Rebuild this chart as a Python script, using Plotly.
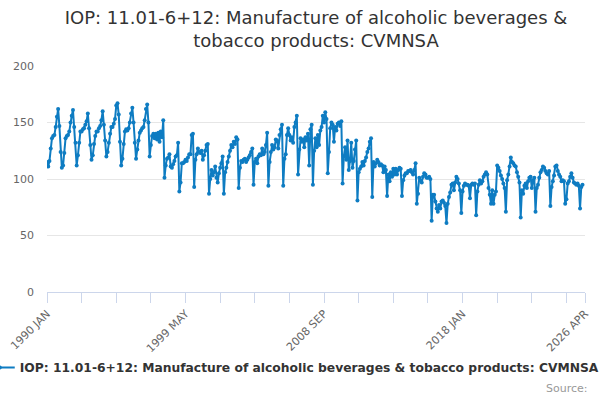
"""IOP 11.01-6+12 (alcoholic beverages & tobacco), monthly CVMNSA index."""
import pandas as pd
import plotly.graph_objects as go

SERIES_NAME = "IOP: 11.01-6+12: Manufacture of alcoholic beverages & tobacco products: CVMNSA"

# monthly values (Jan..Dec per row)
values_1990s = [
    115, 111, 116, 127, 136, 138, 139, 146, 155, 162, 147, 124,  # 1990
    110, 112, 123, 136, 138, 139, 142, 150, 156, 161, 146, 132,  # 1991
    112, 121, 132, 142, 142, 144, 145, 148, 151, 158, 145, 130,  # 1992
    117, 121, 131, 138, 142, 142, 145, 147, 152, 160, 148, 134,  # 1993
    120, 124, 132, 140, 146, 146, 149, 153, 165, 167, 157, 133,  # 1994
    112, 118, 131, 142, 144, 143, 145, 150, 158, 163, 150, 132,  # 1995
    118, 126, 134, 141, 143, 145, 146, 152, 162, 166, 150, 120,  # 1996
    130, 138, 140, 136, 140, 135, 141, 133, 142, 137, 152, 101,  # 1997
    112, 118, 119, 122, 111, 110, 113, 116, 120, 121, 132, 89,   # 1998
    97, 114, 114, 115, 117, 116, 119, 122, 122, 139, 140, 93,    # 1999
]
values_2000s = [
    117, 122, 127, 124, 123, 125, 117, 121, 125, 130, 131, 87,   # 2000
    100, 108, 103, 106, 111, 101, 97, 105, 110, 114, 120, 87,    # 2001
    106, 110, 115, 120, 125, 130, 128, 133, 131, 137, 135, 92,   # 2002
    110, 116, 115, 117, 118, 115, 117, 119, 121, 124, 127, 95,   # 2003
    115, 118, 114, 120, 122, 121, 127, 122, 124, 130, 141, 94,   # 2004
    115, 124, 130, 126, 128, 135, 134, 127, 139, 144, 148, 94,   # 2005
    118, 122, 139, 145, 139, 134, 137, 132, 146, 150, 156, 104,  # 2006
    126, 136, 133, 135, 128, 137, 134, 140, 112, 144, 148, 95,   # 2007
    125, 136, 128, 139, 130, 143, 146, 156, 150, 159, 153, 105,  # 2008
    124, 145, 150, 148, 133, 146, 143, 149, 150, 147, 151, 96,   # 2009
]
values_2010s = [
    120, 128, 117, 134, 108, 116, 132, 110, 116, 126, 134, 81,   # 2010
    106, 109, 111, 115, 112, 116, 119, 124, 127, 133, 136, 84,   # 2011
    115, 111, 114, 117, 115, 112, 113, 112, 106, 111, 108, 85,   # 2012
    104, 98, 106, 102, 109, 104, 109, 104, 108, 110, 109, 85,    # 2013
    99, 103, 105, 105, 107, 107, 108, 106, 104, 108, 114, 78,    # 2014
    87, 101, 99, 97, 102, 105, 104, 101, 101, 102, 100, 63,      # 2015
    86, 86, 80, 74, 71, 77, 74, 80, 81, 79, 76, 61,              # 2016
    78, 84, 88, 95, 96, 90, 97, 102, 100, 96, 90, 70,            # 2017
    89, 94, 96, 95, 95, 94, 83, 95, 96, 95, 96, 68,              # 2018
    89, 95, 99, 96, 98, 102, 104, 106, 104, 92, 86, 78,          # 2019
]
values_2020s = [
    90, 78, 86, 89, 112, 110, 107, 103, 100, 96, 92, 71,         # 2020
    99, 104, 111, 119, 115, 114, 112, 111, 106, 102, 97, 66,     # 2021
    90, 87, 94, 96, 92, 98, 101, 102, 92, 99, 101, 71,           # 2022
    92, 95, 101, 106, 108, 111, 110, 107, 105, 104, 107, 76,     # 2023
    93, 98, 103, 111, 112, 107, 104, 102, 98, 99, 98, 78,        # 2024
    82, 96, 98, 102, 105, 101, 97, 96, 95, 96, 94, 74,           # 2025
    93, 95,                                                      # 2026
]

AXIS_START = "1990-01"
AXIS_END = "2026-04"
TICK_STEP = 28        # months between x ticks
LABEL_EVERY = 4       # label every 4th tick (+ the last one)
Y_TICKS = [0, 50, 100, 150, 200]

values = values_1990s + values_2000s + values_2010s + values_2020s
months = [p.strftime("%Y %b").upper()
          for p in pd.period_range(AXIS_START, AXIS_END, freq="M")]

tick_idx = list(range(0, len(months), TICK_STEP))
if tick_idx[-1] != len(months) - 1:
    tick_idx.append(len(months) - 1)
tick_vals = [months[i] for i in tick_idx]
tick_text = [months[i] if (n % LABEL_EVERY == 0 or i == len(months) - 1) else ""
             for n, i in enumerate(tick_idx)]

FONT = "DejaVu Sans"
BLUE = "#0e7cc2"

fig = go.Figure()
fig.add_trace(go.Scatter(
    x=months[:len(values)], y=values, mode="lines+markers",
    line=dict(color=BLUE, width=2),
    marker=dict(color=BLUE, size=4),
    name=SERIES_NAME,
))

fig.update_layout(
    width=600, height=400,
    margin=dict(l=46.5, r=15, t=65.7, b=107.7, autoexpand=False),
    paper_bgcolor="white", plot_bgcolor="white",
    font=dict(family=FONT, color="#666666", size=11),
    title=dict(
        text="IOP: 11.01-6+12: Manufacture of alcoholic beverages &<br>tobacco products: CVMNSA",
        x=0.5, xanchor="center", xref="paper",
        y=1 - 24 / 400, yanchor="middle", yref="container",
        font=dict(family=FONT, size=18, color="#333333"),
    ),
    showlegend=True,
    legend=dict(
        orientation="h", x=-0.125, xanchor="left", y=-0.334, yanchor="middle",
        font=dict(family=FONT, size=12.3, color="#333333", weight="bold"),
        bgcolor="rgba(0,0,0,0)",
    ),
    xaxis=dict(
        type="category", categoryorder="array", categoryarray=months,
        range=[0, len(months) - 1], automargin=False,
        tickmode="array", tickvals=tick_vals, ticktext=tick_text,
        tickangle=-45, ticks="outside", ticklen=10, tickcolor="#ccd6eb",
        showline=True, linecolor="#ccd6eb", linewidth=1,
        showgrid=False, zeroline=False,
        tickfont=dict(size=11, color="#666666"),
    ),
    yaxis=dict(
        range=[0, 200], tickvals=Y_TICKS, automargin=False,
        showgrid=True, gridcolor="#e6e6e6", gridwidth=1,
        zeroline=False, showline=False, ticks="", ticklabelstandoff=12,
        tickfont=dict(size=11, color="#666666"),
    ),
    annotations=[dict(
        text="Source:", xref="paper", yref="paper",
        x=1.0093, xanchor="right", y=-0.4267, yanchor="middle",
        showarrow=False, font=dict(family=FONT, size=11, color="#999999"),
    )],
)

# the page body has a default 8px margin; drop it so the 600x400 figure fits the window
fig.write_html(
    "out.html",
    config={"displayModeBar": False},
    post_script="document.body.style.margin = '0';",
)
